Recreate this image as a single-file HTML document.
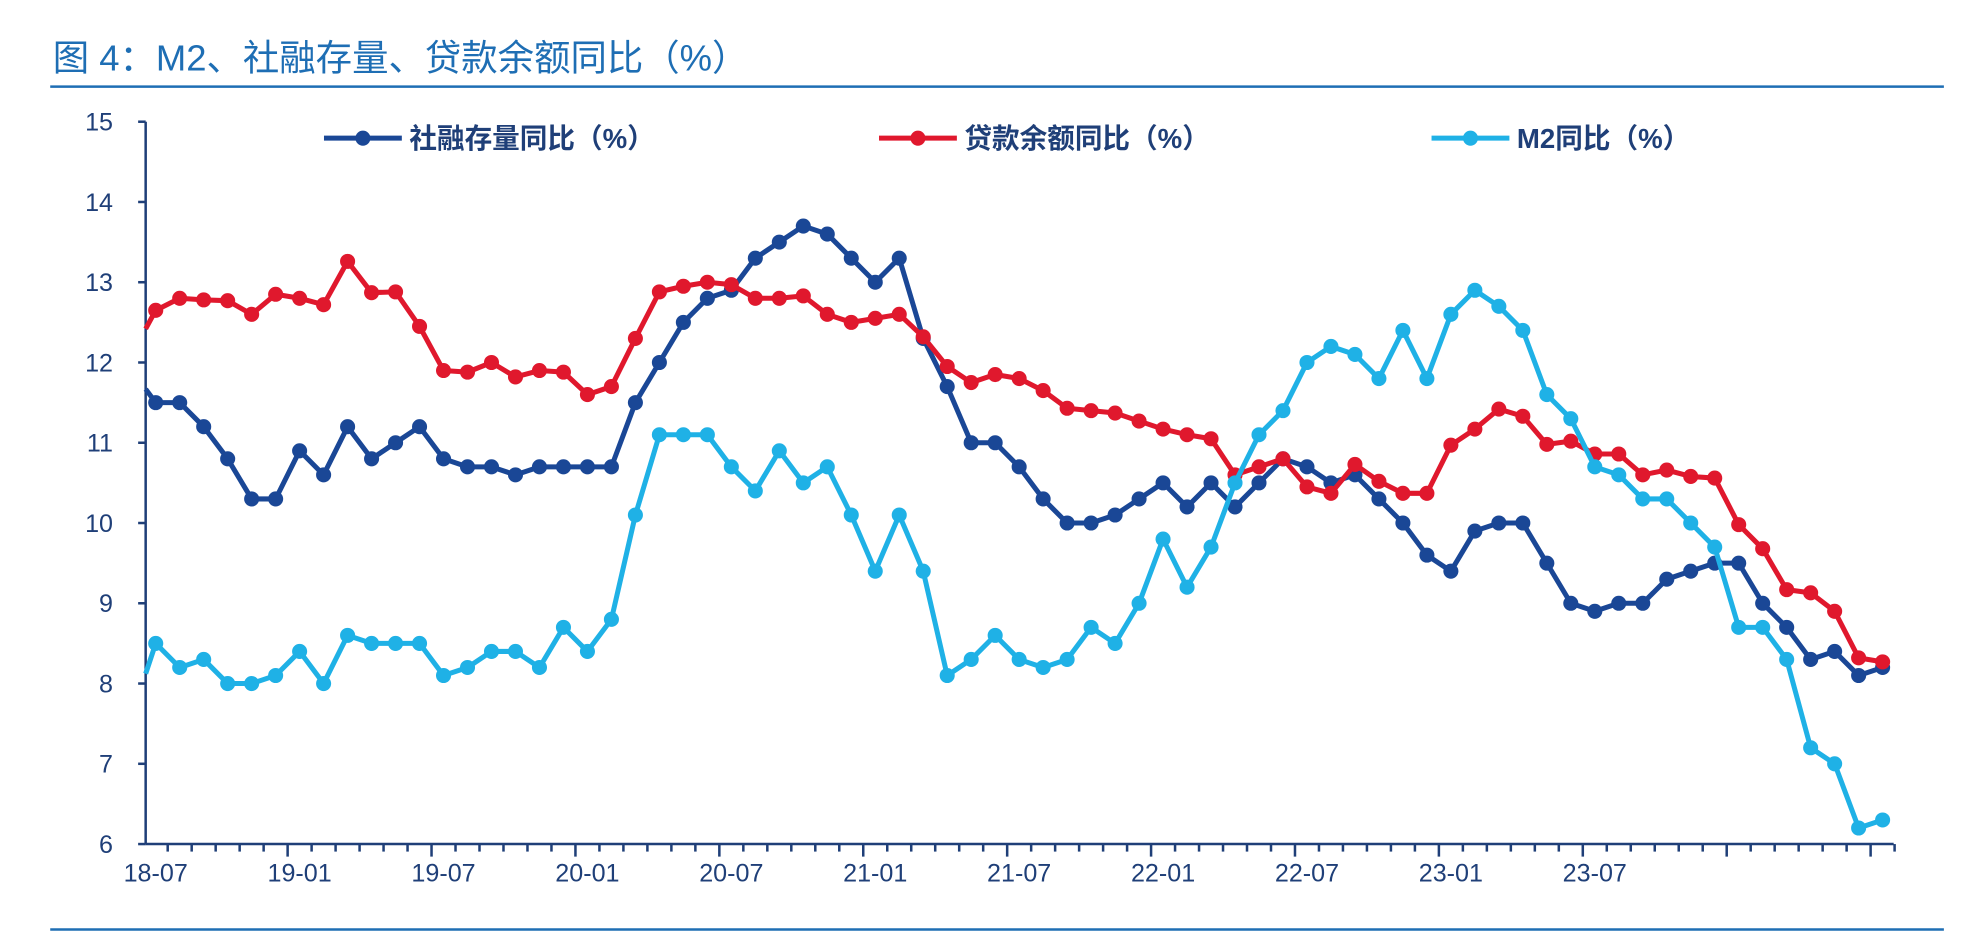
<!DOCTYPE html>
<html><head><meta charset="utf-8">
<style>
body{margin:0;background:#fff;width:1969px;height:937px;overflow:hidden;font-family:"Liberation Sans","Noto Sans CJK SC",sans-serif;}
svg{display:block;}
</style></head>
<body>
<svg id="chart" width="1969" height="937" viewBox="0 0 1568 746" preserveAspectRatio="none" xmlns="http://www.w3.org/2000/svg">
<text x="42" y="56" font-size="29" fill="#1e6eb4" font-family="Liberation Sans, Noto Sans CJK SC, sans-serif">图 4：M2、社融存量、贷款余额同比（%）</text>
<line x1="40" y1="69" x2="1548" y2="69" stroke="#1e6eb4" stroke-width="2"/>
<line x1="40" y1="740" x2="1548" y2="740" stroke="#1e6eb4" stroke-width="2"/>
<g id="axes"></g>
<g id="series"></g>
<g id="legend"></g>
</svg>
<script>
const yTicks = [6,7,8,9,10,11,12,13,14,15];
const xTickLabels = ["18-07","19-01","19-07","20-01","20-07","21-01","21-07","22-01","22-07","23-01","23-07"];
const seriesNames = ["社融存量同比（%）","贷款余额同比（%）","M2同比（%）"];
const tsfValues = [11.5,11.5,11.2,10.8,10.3,10.3,10.9,10.6,11.2,10.8,11.0,11.2,10.8,10.7,10.7,10.6,10.7,10.7,10.7,10.7,11.5,12.0,12.5,12.8,12.9,13.3,13.5,13.7,13.6,13.3,13.0,13.3,12.3,11.7,11.0,11.0,10.7,10.3,10.0,10.0,10.1,10.3,10.5,10.2,10.5,10.2,10.5,10.8,10.7,10.5,10.6,10.3,10.0,9.6,9.4,9.9,10.0,10.0,9.5,9.0,8.9,9.0,9.0,9.3,9.4,9.5,9.5,9.0,8.7,8.3,8.4,8.1,8.2];
const loanValues = [12.65,12.8,12.78,12.77,12.6,12.85,12.8,12.72,13.26,12.87,12.88,12.45,11.9,11.88,12.0,11.82,11.9,11.88,11.6,11.7,12.3,12.88,12.95,13.0,12.97,12.8,12.8,12.83,12.6,12.5,12.55,12.6,12.32,11.95,11.75,11.85,11.8,11.65,11.43,11.4,11.37,11.27,11.17,11.1,11.05,10.6,10.7,10.8,10.45,10.37,10.73,10.52,10.37,10.37,10.97,11.17,11.42,11.33,10.98,11.02,10.86,10.86,10.6,10.66,10.58,10.56,9.98,9.68,9.17,9.13,8.9,8.32,8.27];
const m2Values = [8.5,8.2,8.3,8.0,8.0,8.1,8.4,8.0,8.6,8.5,8.5,8.5,8.1,8.2,8.4,8.4,8.2,8.7,8.4,8.8,10.1,11.1,11.1,11.1,10.7,10.4,10.9,10.5,10.7,10.1,9.4,10.1,9.4,8.1,8.3,8.6,8.3,8.2,8.3,8.7,8.5,9.0,9.8,9.2,9.7,10.5,11.1,11.4,12.0,12.2,12.1,11.8,12.4,11.8,12.6,12.9,12.7,12.4,11.6,11.3,10.7,10.6,10.3,10.3,10.0,9.7,8.7,8.7,8.3,7.2,7.0,6.2,6.3];
const prevValues = [11.9,12.1,7.6];

const NS="http://www.w3.org/2000/svg";
const X0=116, P0=124, STEP=19.1, Y6=672, PXU=63.9;
const x=i=>P0+i*STEP;
const y=v=>Y6-(v-6)*PXU;
function mk(t,a,p){const e=document.createElementNS(NS,t);for(const k in a)e.setAttribute(k,a[k]);p.appendChild(e);return e;}
const axes=document.getElementById('axes'), ser=document.getElementById('series'), leg=document.getElementById('legend');
const axisCol="#1f3f78";
let yl=mk('line',{x1:X0,y1:y(15),x2:X0,y2:Y6,stroke:axisCol,'stroke-width':2},axes);


let xl=mk('line',{x1:X0,y1:Y6,x2:1508,y2:Y6,stroke:axisCol,'stroke-width':2},axes);


yTicks.forEach(v=>{
  mk('line',{x1:X0-6,y1:y(v),x2:X0,y2:y(v),stroke:axisCol,'stroke-width':2},axes);
  const t=mk('text',{x:90,y:y(v)+7,'text-anchor':'end','font-size':20,fill:axisCol},axes);
  t.textContent=v;
  
  
});
for(let i=0;i<73;i++){
  const major=(i%6==5);
  const tx=x(i)+STEP/2;
  if(tx<1510) mk('line',{x1:tx,y1:Y6,x2:tx,y2:Y6+(major?10:6),stroke:axisCol,'stroke-width':2},axes);
}
xTickLabels.forEach((l,k)=>{
  const t=mk('text',{x:x(k*6),y:Y6+30,'text-anchor':'middle','font-size':20,fill:axisCol},axes);
  t.textContent=l;
  
  
});
const colors=["#1a4796","#e0182d","#1fb1e6"];
const data=[tsfValues,loanValues,m2Values];
const names=["tsf-series","loan-series","m2-series"];
data.forEach((vals,s)=>{
  const g=mk('g',{},ser);
  
  
  const pv=prevValues[s], e0=pv+(vals[0]-pv)*(X0-(P0-STEP))/STEP;
  let d=`M${X0},${y(e0)} `+vals.map((v,i)=>`L${x(i)},${y(v)}`).join(' ');
  mk('path',{d:d,fill:'none',stroke:colors[s],'stroke-width':4,'stroke-linejoin':'round'},g);
  vals.forEach((v,i)=>{
    const c=mk('circle',{cx:x(i),cy:y(v),r:6,fill:colors[s]},g);
    
    
  });
});
const lx=[258,700,1140];
seriesNames.forEach((n,s)=>{
  const g=mk('g',{},leg);
  
  
  mk('line',{x1:lx[s],y1:110,x2:lx[s]+62,y2:110,stroke:colors[s],'stroke-width':4},g);
  mk('circle',{cx:lx[s]+31,cy:110,r:6,fill:colors[s]},g);
  const t=mk('text',{x:lx[s]+68,y:118,'font-size':22,fill:axisCol,'font-weight':'bold'},g);
  t.textContent=n;
});
</script>
</body></html>
